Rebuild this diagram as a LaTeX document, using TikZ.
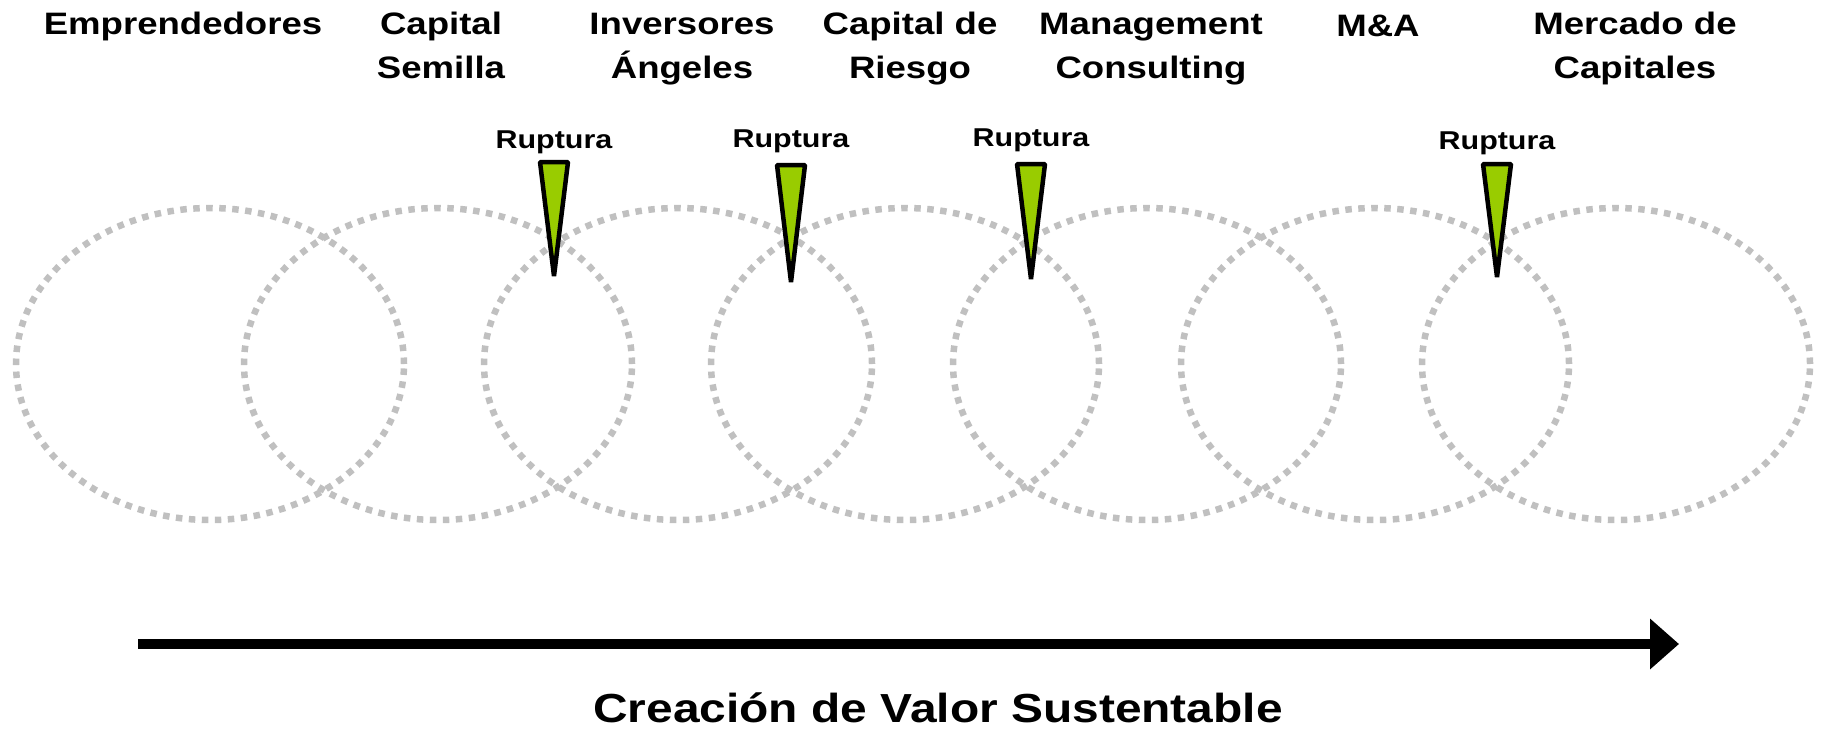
\documentclass[tikz,border=0pt]{standalone}
\usepackage{fontspec}
\newfontfamily\rotulofont{Liberation Sans}[FakeStretch=1.18]
\usepackage{tikz}
\usetikzlibrary{
	positioning
	,shapes.geometric
	,arrows.meta
}
\definecolor{verde}{RGB}{153,204,0}
\definecolor{gris}{RGB}{192,192,192}
\tikzset{
	etapa/.style={
		draw=gris
		,ellipse
		,line width=6.5pt
		,dash pattern=on 6.5pt off 6.5pt
		,inner sep=0pt
		,minimum width=388pt
		,minimum height=312pt
	},
	rotulo/.style={
		anchor=base
		,align=center
		,inner sep=0pt
		,font=\rotulofont\bfseries\fontsize{31}{44}\selectfont
	},
	ruptura/.style={
		anchor=base
		,inner sep=0pt
		,font=\rotulofont\bfseries\fontsize{25.8}{30}\selectfont
	},
	cuna/.style={
		draw=black
		,fill=verde
		,line width=4.5pt
		,miter limit=1
	}
}
\tikzset{
	>={Triangle[length=29pt,width=49pt]}
}

\begin{document}
\begin{tikzpicture}[x=1pt, y=-1pt]
\useasboundingbox (0,0) rectangle (1827,737);

\foreach \n/\x in {%
1/210, 2/438, 3/678, 4/905, 5/1147, 6/1375, 7/1616%
}{
	\node[etapa] (e\n) at (\x,364) {};
}

% two-line labels sit on the baseline of their last line
\begin{scope}[every node/.append style={rotulo}]
\node(emp) at(183,34){Emprendedores};
\node(sem) at(441,78){Capital\\Semilla};
\node(ang) at(682,78){Inversores\\Ángeles};
\node(rie) at(910,78){Capital de\\Riesgo};
\node(con) at(1151,78){Management\\Consulting};
\node(mya) at(1378,36){M\&A};
\node(mer) at(1635,78){Mercado de\\Capitales};
\end{scope}

% rupturas
\foreach \n/\x/\t/\b/\y in {%
1/554/162/276/148, 2/791/165/282/147%
,3/1031/164/279/146, 4/1497/164/277/149%
}{
	\node[ruptura] (r\n) at (\x,\y) {Ruptura};
	\coordinate (a\n) at (\x-14,\t);
	\coordinate (b\n) at (\x+14,\t);
	\coordinate (p\n) at (\x,\b);
	\draw[cuna] (a\n) -- (b\n) -- (p\n) -- cycle;
}

\coordinate (inicio) at (138,644);
\coordinate (fin) at (1679,644);
\draw[->, line width=10pt] (inicio) -- (fin);

\node[rotulo, font=\rotulofont\bfseries\fontsize{40.6}{44}\selectfont] (valor) at (938,722) {Creación de Valor Sustentable};
\end{tikzpicture}
\end{document}
